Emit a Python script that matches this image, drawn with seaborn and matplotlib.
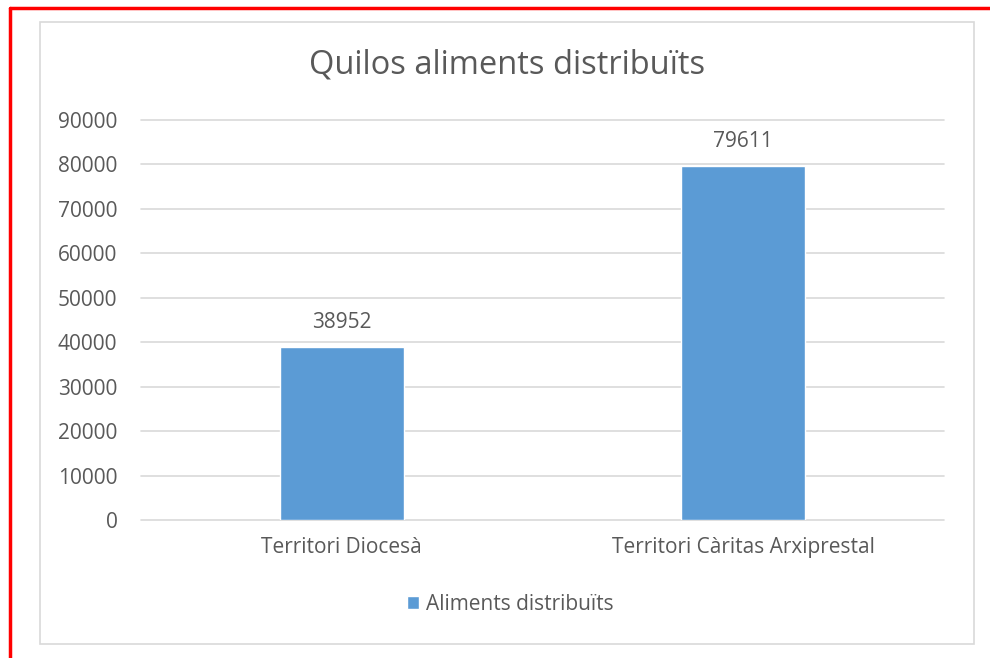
import matplotlib
matplotlib.use("Agg")
import matplotlib.pyplot as plt
import seaborn as sns
import pandas as pd
from matplotlib.patches import Rectangle
from matplotlib.lines import Line2D

categories = ["Territori Diocesà", "Territori Càritas Arxiprestal"]
values = [38952, 79611]
series_name = "Aliments distribuïts"
title = "Quilos aliments distribuïts"
yticks = [0, 10000, 20000, 30000, 40000, 50000, 60000, 70000, 80000, 90000]

df = pd.DataFrame({"cat": categories, "val": values, "series": [series_name] * len(categories)})

sns.set_theme(style="white")
plt.rcParams['font.family'] = ['Open Sans', 'DejaVu Sans']

TXT = "#595959"
W, H = 990, 658
fig = plt.figure(figsize=(W / 100, H / 100), dpi=100)
fig.patch.set_facecolor("white")

# outer borders
fig.add_artist(Rectangle((40 / W, 1 - 644 / H), (974 - 40) / W, (644 - 22) / H,
                         transform=fig.transFigure, fill=False, edgecolor="#D9D9D9", lw=1.2))
fig.add_artist(Line2D([10 / W, 10 / W], [0, 1 - 8 / H], transform=fig.transFigure, color="#FF0000", lw=2.5))
fig.add_artist(Line2D([10 / W, 1], [1 - 8 / H, 1 - 8 / H], transform=fig.transFigure, color="#FF0000", lw=2.5))

ax = fig.add_axes([141 / W, 1 - 520 / H, (944 - 141) / W, (520 - 120) / H])
sns.barplot(data=df, x="cat", y="val", hue="series", palette=["#5B9BD5"], width=0.31,
            ax=ax, legend=False, saturation=1)
ax.set_ylim(0, 90000)
ax.set_yticks(yticks)
ax.set_yticklabels([str(t) for t in yticks])
ax.set_xlabel("")
ax.set_ylabel("")
for s in ax.spines.values():
    s.set_visible(False)
ax.grid(axis="y", color="#D9D9D9", lw=1.2)
for gl in ax.get_ygridlines():
    gl.set_clip_on(False)
ax.set_axisbelow(True)
ax.tick_params(axis="y", length=0, pad=17, labelsize=15, labelcolor=TXT)
ax.tick_params(axis="x", length=0, pad=12, labelsize=15, labelcolor=TXT)

for c in ax.containers:
    ax.bar_label(c, labels=[str(v) for v in values], padding=10, fontsize=15, color=TXT)

fig.text(0.5 * (40 + 974) / W, 1 - 65 / H, title, ha="center", va="center", fontsize=23.5, color=TXT)

handle = Rectangle((0, 0), 1, 1, facecolor="#5B9BD5")
fig.legend([handle], [series_name], loc="center", bbox_to_anchor=(510 / W, 1 - 604 / H), frameon=False,
           fontsize=15, handlelength=0.6, handleheight=0.6, handletextpad=0.3, labelcolor=TXT)

fig.savefig("out.png", dpi=100)
